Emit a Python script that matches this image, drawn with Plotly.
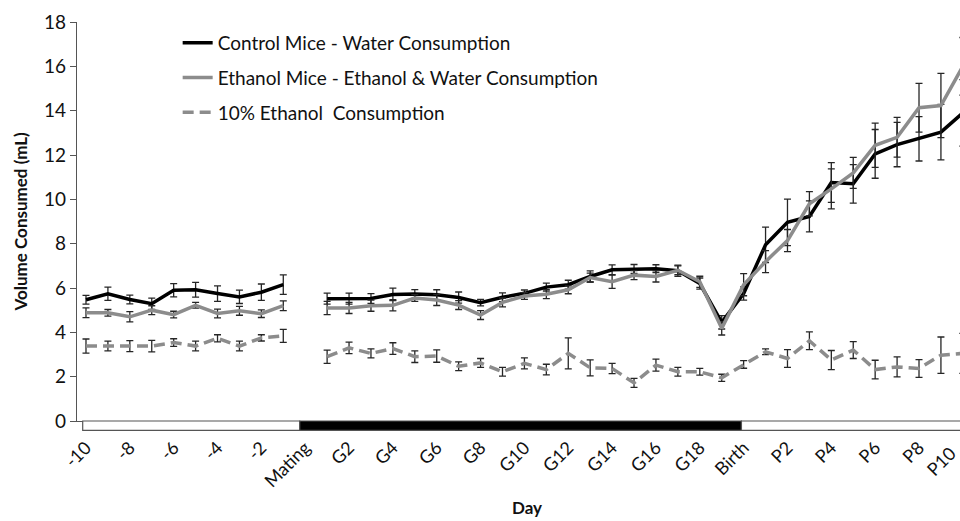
import plotly.graph_objects as go

# ---------------- data ----------------
days = ([str(d) for d in range(-10, 0)] + ["Mating"] + [f"G{i}" for i in range(1, 20)]
        + ["Birth"] + [f"P{i}" for i in range(1, 11)])

control = [5.47, 5.74, 5.48, 5.29, 5.90, 5.92, 5.75, 5.60, 5.81, 6.15, None,
           5.52, 5.52, 5.53, 5.71, 5.73, 5.70, 5.57, 5.34, 5.58, 5.76, 6.04, 6.15, 6.52, 6.82,
           6.86, 6.87, 6.78, 6.20, 4.45, 5.75,
           7.95, 8.96, 9.23, 10.76, 10.70, 12.05, 12.47, 12.73, 13.03, 13.90]
control_err = [0.20, 0.30, 0.20, 0.25, 0.30, 0.33, 0.35, 0.30, 0.37, 0.44, 0,
               0.25, 0.25, 0.22, 0.28, 0.20, 0.22, 0.25, 0.15, 0.20, 0.15, 0.18, 0.20, 0.25, 0.22,
               0.20, 0.18, 0.25, 0.25, 0.30, 0.30,
               0.80, 1.05, 0.70, 0.90, 0.87, 1.10, 1.00, 1.00, 1.25, 1.50]

ethanol = [4.88, 4.88, 4.70, 5.00, 4.80, 5.22, 4.85, 4.97, 4.84, 5.20, None,
           5.10, 5.10, 5.20, 5.22, 5.55, 5.46, 5.23, 4.78, 5.35, 5.64, 5.72, 5.92, 6.47, 6.28,
           6.58, 6.52, 6.80, 6.28, 4.18, 6.15,
           7.19, 8.14, 9.80, 10.47, 11.19, 12.44, 12.80, 14.13, 14.23, 16.00]
ethanol_err = [0.22, 0.15, 0.23, 0.20, 0.15, 0.13, 0.20, 0.20, 0.17, 0.22, 0,
               0.30, 0.25, 0.25, 0.25, 0.15, 0.25, 0.20, 0.20, 0.20, 0.15, 0.20, 0.18, 0.20, 0.30,
               0.20, 0.25, 0.20, 0.25, 0.30, 0.50,
               0.50, 0.50, 0.55, 0.90, 0.70, 1.00, 0.90, 1.10, 1.45, 1.30]

eth10 = [3.38, 3.38, 3.38, 3.38, 3.54, 3.38, 3.73, 3.38, 3.75, 3.84, None,
         2.90, 3.30, 3.05, 3.27, 2.90, 2.93, 2.47, 2.62, 2.22, 2.60, 2.32, 3.05, 2.40, 2.37,
         1.72, 2.52, 2.22, 2.22, 1.95, 2.55,
         3.12, 2.82, 3.62, 2.75, 3.20, 2.32, 2.44, 2.37, 2.97, 3.05]
eth10_err = [0.32, 0.22, 0.25, 0.26, 0.17, 0.22, 0.16, 0.22, 0.14, 0.29, 0,
             0.30, 0.26, 0.20, 0.26, 0.26, 0.28, 0.20, 0.20, 0.20, 0.25, 0.24, 0.70, 0.36, 0.23,
             0.20, 0.27, 0.20, 0.15, 0.16, 0.17,
             0.13, 0.40, 0.40, 0.43, 0.38, 0.42, 0.45, 0.40, 0.82, 0.90]

series_names = ["Control Mice - Water Consumption",
                "Ethanol Mice - Ethanol & Water Consumption",
                "10% Ethanol  Consumption"]

# phase bar under the axis: (start, end) in category index units, fill
phase_start = [-0.15, 9.75, 29.9]
phase_end = [9.75, 29.9, 41.0]
phase_fill = ["white", "black", "white"]

y_ticks = [0, 2, 4, 6, 8, 10, 12, 14, 16, 18]
tick_days = days[::2]

# ---------------- styling ----------------
FONT = "Lato"
GRAY = "#8c8c8c"
ERRC = "#262626"
X_RANGE = [-0.41, 39.87]

fig = go.Figure()

styles = [
    (control, control_err, "#000000", None),
    (ethanol, ethanol_err, GRAY, None),
    (eth10, eth10_err, GRAY, "11px,6px"),
]
for i, (vals, errs, col, dash) in enumerate(styles):
    fig.add_trace(go.Scatter(
        x=days, y=vals, mode="lines", name=series_names[i],
        legendgroup=f"g{i}",
        line=dict(color=col, width=3.5, dash=dash),
        connectgaps=False,
        error_y=dict(type="data", array=errs, visible=True,
                     color=ERRC, thickness=1.3, width=3.5),
    ))

for s, e, f in zip(phase_start, phase_end, phase_fill):
    fig.add_shape(type="rect", xref="x", yref="paper",
                  x0=s, x1=e, y0=-0.0235, y1=0,
                  fillcolor=f, line=dict(color="#555555", width=1.2), layer="above")

# Cropped last tick label (P10) sits just outside the visible range
span = X_RANGE[1] - X_RANGE[0]
fig.add_annotation(xref="paper", yref="paper",
                   x=(days.index("P10") - X_RANGE[0]) / span, y=-0.045,
                   text="P10", showarrow=False, textangle=-45,
                   xanchor="right", yanchor="top",
                   font=dict(family=FONT, size=18, color="#111111"))

fig.add_annotation(xref="paper", yref="paper", x=-0.0635, y=0.5,
                   text="<b>Volume Consumed (mL)</b>", showarrow=False,
                   textangle=-90, xanchor="center", yanchor="middle",
                   font=dict(family=FONT, size=17, color="#111111"))
fig.add_annotation(xref="paper", y=-0.217, x=0.51, yref="paper",
                   text="<b>Day</b>", showarrow=False,
                   xanchor="center", yanchor="middle",
                   font=dict(family=FONT, size=17, color="#111111"))

fig.update_layout(
    width=960, height=521,
    margin=dict(l=77, r=0, t=22, b=100, autoexpand=False),
    paper_bgcolor="white", plot_bgcolor="white",
    font=dict(family=FONT, size=18, color="#111111"),
    showlegend=True,
    legend=dict(x=0.114, y=0.995, xanchor="left", yanchor="top",
                bgcolor="rgba(0,0,0,0)", tracegroupgap=7,
                font=dict(family=FONT, size=19, color="#111111")),
    xaxis=dict(type="category", categoryorder="array", categoryarray=days,
               range=X_RANGE, showgrid=False, zeroline=False, automargin=False,
               showline=True, linecolor="#555555", linewidth=1.3,
               ticks="", tickmode="array", tickvals=tick_days, ticktext=tick_days,
               tickangle=-45, ticklabelstandoff=8,
               tickfont=dict(family=FONT, size=18, color="#111111")),
    yaxis=dict(range=[0, 18], tickvals=y_ticks, showgrid=False, zeroline=False,
               automargin=False,
               showline=True, linecolor="#555555", linewidth=1.3,
               ticks="outside", ticklen=6, tickcolor="#555555", tickwidth=1.3,
               tickfont=dict(family=FONT, size=19, color="#111111")),
)

fig.write_html("out.html", config={"displayModeBar": False},
               post_script="document.body.style.margin='0';document.body.style.overflow='hidden';")
